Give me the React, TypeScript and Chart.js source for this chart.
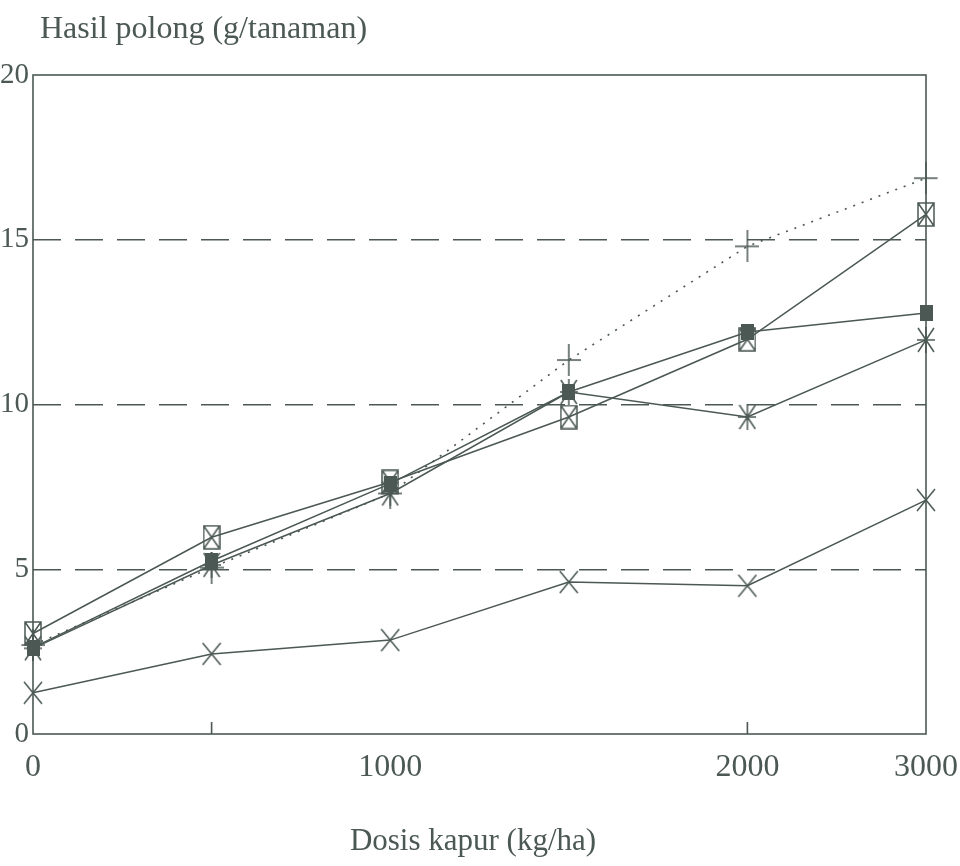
import React, { useEffect, useRef } from 'react';
import { Chart, registerables } from 'chart.js';

Chart.register(...registerables);

// ---- data ----
const doses = ['0', '500', '1000', '1500', '2000', '3000'];
const shownXTicks = ['0', '1000', '2000', '3000'];
const innerXTicks = ['500', '2000'];
const yMin = 0;
const yMax = 20;
const yStep = 5;
const gridValues = [5, 10, 15];
const seriesCross = [1.25, 2.43, 2.85, 4.61, 4.5, 7.1];
const seriesStar = [2.6, 5.13, 7.3, 10.38, 9.62, 11.96];
const seriesFilled = [2.62, 5.25, 7.6, 10.38, 12.2, 12.78];
const seriesBoxX = [3.05, 5.97, 7.65, 9.62, 11.98, 15.77];
const seriesPlus = [2.7, 5.05, 7.3, 11.35, 14.8, 16.87];
const yTitle = 'Hasil polong (g/tanaman)';
const xTitle = 'Dosis kapur (kg/ha)';

const INK = '#4b5854';
const FONT = '"Liberation Serif", "DejaVu Serif", serif';

function makeMarker(kind: string, w: number, h: number): HTMLCanvasElement {
  const c = document.createElement('canvas');
  c.width = w;
  c.height = h;
  const g = c.getContext('2d')!;
  g.strokeStyle = INK;
  g.fillStyle = INK;
  g.lineWidth = 1.5;
  const m = 1;
  g.beginPath();
  if (kind === 'x') {
    g.moveTo(m, m); g.lineTo(w - m, h - m);
    g.moveTo(w - m, m); g.lineTo(m, h - m);
  } else if (kind === 'star') {
    g.moveTo(m, m); g.lineTo(w - m, h - m);
    g.moveTo(w - m, m); g.lineTo(m, h - m);
    g.moveTo(w / 2, 0); g.lineTo(w / 2, h);
    g.moveTo(0, h / 2); g.lineTo(w, h / 2);
  } else if (kind === 'plus') {
    g.moveTo(w / 2, 0); g.lineTo(w / 2, h);
    g.moveTo(0, h / 2); g.lineTo(w, h / 2);
  } else if (kind === 'boxx') {
    g.rect(1, 1, w - 2, h - 2);
    g.moveTo(1, 1); g.lineTo(w - 1, h - 1);
    g.moveTo(w - 1, 1); g.lineTo(1, h - 1);
  } else if (kind === 'filled') {
    g.fillRect(0, 0, w, h);
  }
  g.stroke();
  return c;
}

const framePlugin = {
  id: 'frameAndTitles',
  beforeDatasetsDraw(chart: any) {
    const { ctx, chartArea } = chart;
    const xs = chart.scales.x;
    ctx.save();
    ctx.strokeStyle = INK;
    ctx.lineWidth = 1.6;
    ctx.setLineDash([]);
    ctx.strokeRect(chartArea.left, chartArea.top, chartArea.right - chartArea.left, chartArea.bottom - chartArea.top);
    ctx.beginPath();
    innerXTicks.forEach((t) => {
      const px = xs.getPixelForValue(doses.indexOf(t));
      ctx.moveTo(px, chartArea.bottom);
      ctx.lineTo(px, chartArea.bottom - 12);
    });
    ctx.stroke();
    ctx.restore();
  },
  afterDraw(chart: any) {
    const { ctx } = chart;
    ctx.save();
    ctx.fillStyle = INK;
    ctx.textBaseline = 'alphabetic';
    ctx.textAlign = 'left';
    ctx.font = `32px ${FONT}`;
    ctx.fillText(yTitle, 40, 38);
    ctx.textAlign = 'center';
    ctx.font = `31px ${FONT}`;
    ctx.fillText(xTitle, 473, 850);
    ctx.restore();
  },
};

export default function App() {
  const ref = useRef<HTMLCanvasElement | null>(null);

  useEffect(() => {
    if (!ref.current) return;
    const mk = {
      x: makeMarker('x', 20, 24),
      star: makeMarker('star', 18, 26),
      filled: makeMarker('filled', 13, 16),
      boxx: makeMarker('boxx', 18, 25),
      plus: makeMarker('plus', 24, 32),
    };
    const common = {
      borderColor: INK,
      backgroundColor: INK,
      borderWidth: 1.5,
      pointRadius: 10,
      tension: 0,
      fill: false,
    };
    const chart = new Chart(ref.current, {
      type: 'line',
      data: {
        labels: doses,
        datasets: [
          { ...common, label: 'filled', data: seriesFilled, pointStyle: mk.filled as any },
          { ...common, label: 'star', data: seriesStar, pointStyle: mk.star as any },
          { ...common, label: 'boxx', data: seriesBoxX, pointStyle: mk.boxx as any },
          { ...common, label: 'plus', data: seriesPlus, pointStyle: mk.plus as any, borderDash: [2, 7], borderWidth: 1.6 },
          { ...common, label: 'x', data: seriesCross, pointStyle: mk.x as any },
        ],
      },
      options: {
        responsive: false,
        animation: false,
        devicePixelRatio: 1,
        layout: { padding: { left: 0, top: 75, right: 34, bottom: 0 } },
        plugins: {
          legend: { display: false },
          tooltip: { enabled: false },
          title: { display: false },
        },
        scales: {
          x: {
            type: 'category',
            offset: false,
            grid: { display: false, drawTicks: false },
            border: { display: false },
            ticks: {
              color: INK,
              font: { family: FONT, size: 32 },
              padding: 14,
              autoSkip: false,
              maxRotation: 0,
              callback: (_v: any, i: number) => (shownXTicks.includes(doses[i]) ? doses[i] : ''),
            },
            afterFit: (s: any) => {
              s.height = 132;
              s.paddingLeft = 0;
              s.paddingRight = 0;
            },
          },
          y: {
            min: yMin,
            max: yMax,
            grid: {
              drawTicks: false,
              lineWidth: 1.5,
              color: (c: any) => (gridValues.includes(c.tick?.value) ? INK : 'rgba(0,0,0,0)'),
            },
            border: { display: false, dash: [28, 14] },
            ticks: {
              stepSize: yStep,
              color: INK,
              font: { family: FONT, size: 29 },
              padding: 4,
            },
            afterFit: (s: any) => {
              s.width = 33;
              s.paddingTop = 0;
              s.paddingBottom = 0;
            },
          },
        },
      },
      plugins: [framePlugin],
    });
    return () => chart.destroy();
  }, []);

  return (
    <div style={{ position: 'fixed', left: 0, top: 0, width: 960, height: 866, background: '#ffffff' }}>
      <canvas ref={ref} width={960} height={866} style={{ width: 960, height: 866, display: 'block' }} />
    </div>
  );
}
